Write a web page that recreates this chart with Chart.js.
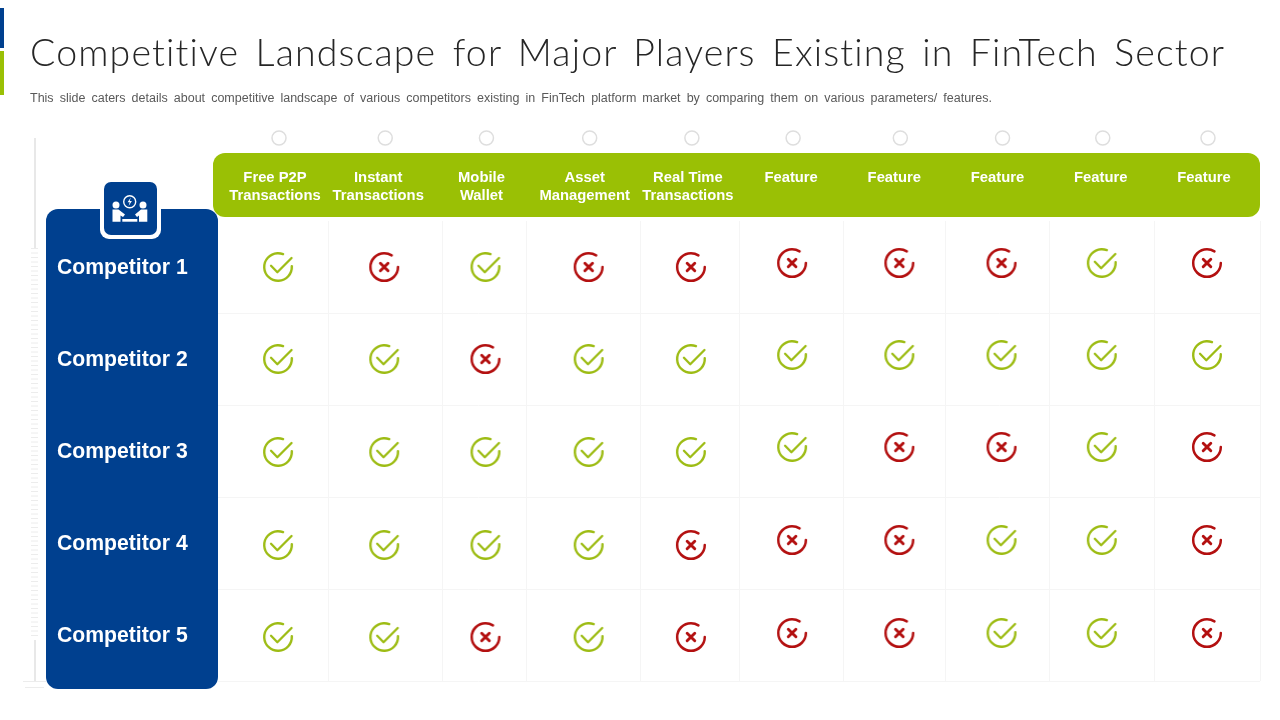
<!DOCTYPE html>
<html><head><meta charset="utf-8">
<style>
html,body{margin:0;padding:0;background:#fff;width:1280px;height:720px;overflow:hidden}
#t{position:absolute;left:30px;top:29px;margin:0;font:300 37.5px Lato,sans-serif;color:#262626;word-spacing:5px;white-space:nowrap;letter-spacing:1.15px}
#s{position:absolute;left:30px;top:90.5px;margin:0;font:12.5px "Liberation Sans",sans-serif;color:#595959;word-spacing:2.6px;white-space:nowrap}
#c{position:absolute;left:0;top:0}
</style>
<script src="https://cdn.jsdelivr.net/npm/chart.js@4/dist/chart.umd.min.js"></script>
</head><body>
<canvas id="c" width="1280" height="720"></canvas>
<h1 id="t">Competitive Landscape for Major Players Existing in FinTech Sector</h1>
<p id="s">This slide caters details about competitive landscape of various competitors existing in FinTech platform market by comparing them on various parameters/ features.</p>
<script>
const features=[["Free P2P","Transactions"],["Instant","Transactions"],["Mobile","Wallet"],["Asset","Management"],["Real Time","Transactions"],["Feature",""],["Feature",""],["Feature",""],["Feature",""],["Feature",""]];
const competitors=["Competitor 1","Competitor 2","Competitor 3","Competitor 4","Competitor 5"];
const competitor1=[1,0,1,0,0,0,0,0,1,0];
const competitor2=[1,1,0,1,1,1,1,1,1,1];
const competitor3=[1,1,1,1,1,1,0,0,1,0];
const competitor4=[1,1,1,1,0,0,0,1,1,0];
const competitor5=[1,1,0,1,0,0,0,1,1,0];
const matrix=[competitor1,competitor2,competitor3,competitor4,competitor5];

const BLUE='#00408f',GREEN='#9ac005',CHECK='#9dbc14',CROSS='#b31010',GRID='#f5f5f5',DECO='#e8e8e8';
// drawing-only nudges of the icon glyphs (px)
const colNudge=[0,3,1,1,0,-2,2,1,-2,0];
const rowNudgeLeft=[0,0,1,2,2],rowNudgeRight=[-4,-4,-4,-3,-2];
const colEdges=[328,442,526,640,739,843,945,1049,1154];

const iconCache={};
function icon(ok,dx,dy){
  const k=[ok,dx,dy].join();
  if(iconCache[k])return iconCache[k];
  const c=document.createElement('canvas');c.width=c.height=48;
  const g=c.getContext('2d');g.translate(24+dx,24+dy);g.lineCap='round';g.lineJoin='round';
  if(ok){
    g.strokeStyle=CHECK;g.lineWidth=2.4;
    g.beginPath();g.arc(0,0,13.8,-0.05,-1.2+Math.PI*2,false);g.stroke();
    g.lineWidth=2.3;g.beginPath();g.moveTo(-7,-1.2);g.lineTo(-0.7,5.2);g.lineTo(13.5,-9);g.stroke();
  }else{
    g.strokeStyle=CROSS;g.lineWidth=2.5;
    g.beginPath();g.arc(0,0,13.8,0.0,-1+Math.PI*2,false);g.stroke();
    g.lineWidth=2.9;g.beginPath();g.moveTo(-3.8,-3.8);g.lineTo(3.8,3.8);g.moveTo(3.8,-3.8);g.lineTo(-3.8,3.8);g.stroke();
  }
  return iconCache[k]=c;
}
function rr(g,x,y,w,h,r,fill){g.beginPath();g.roundRect(x,y,w,h,r);g.fillStyle=fill;g.fill();}

const backdrop={id:'backdrop',beforeDraw(ch){
  const g=ch.ctx,a=ch.chartArea,xs=ch.scales.x,ys=ch.scales.y;
  g.save();
  g.fillStyle=BLUE;g.fillRect(0,8,4,40);
  g.fillStyle=GREEN;g.fillRect(0,51,4,44);
  g.strokeStyle=DECO;g.lineWidth=2;
  g.beginPath();g.moveTo(35,138);g.lineTo(35,248);g.moveTo(35,640);g.lineTo(35,681);g.stroke();
  g.lineWidth=1;g.strokeStyle='#ececec';g.beginPath();
  for(let y=248.5;y<640;y+=4.5){g.moveTo(31,y);g.lineTo(38,y);}
  g.moveTo(23,681.5);g.lineTo(46,681.5);g.moveTo(25,687.5);g.lineTo(44,687.5);g.stroke();
  g.strokeStyle='#dedede';g.lineWidth=1.5;
  xs.ticks.forEach((t,i)=>{g.beginPath();g.arc(xs.getPixelForTick(i)+colNudge[i]+1,138,7,0,Math.PI*2);g.stroke();});
  g.strokeStyle=GRID;g.lineWidth=1;g.beginPath();
  colEdges.concat(1260).forEach(x=>{g.moveTo(x+.5,a.top);g.lineTo(x+.5,a.bottom);});
  ys.ticks.forEach((t,i)=>{const y=Math.round(ys.getPixelForTick(i)+(ys.getPixelForTick(1)-ys.getPixelForTick(0))/2)+.5;g.moveTo(218,y);g.lineTo(1260,y);});
  g.stroke();
  rr(g,213,153,1047,64,12,GREEN);
  rr(g,46,209,172,480,12,BLUE);
  rr(g,100,181,61,58,9,'#fff');
  rr(g,104,182,53,53,7,BLUE);
  g.fillStyle='#fff';g.strokeStyle='#fff';
  g.beginPath();g.arc(116,205,3.5,0,7);g.arc(143,205,3.5,0,7);g.fill();
  g.beginPath();g.moveTo(112.5,209.5);g.lineTo(118.5,209.5);g.lineTo(125,214.5);g.lineTo(123,217);g.lineTo(120.5,215.5);g.lineTo(120.5,221.7);g.lineTo(112.5,221.7);g.closePath();g.fill();
  g.beginPath();g.moveTo(147.3,209.5);g.lineTo(141,209.5);g.lineTo(135,214.5);g.lineTo(137,217);g.lineTo(139,215.5);g.lineTo(139,221.7);g.lineTo(147.3,221.7);g.closePath();g.fill();
  g.fillRect(122.3,219,15,2.7);
  g.lineWidth=1.4;g.beginPath();g.arc(129.7,201.7,6,0,7);g.stroke();
  g.beginPath();g.moveTo(130.8,197.5);g.lineTo(127.6,202.3);g.lineTo(129.7,202.3);g.lineTo(128.6,206);g.lineTo(131.9,201);g.lineTo(129.7,201);g.closePath();g.fill();
  g.restore();
}};

function cells(flag){
  const out=[];
  matrix.forEach((row,r)=>row.forEach((v,c)=>{if(v===flag)out.push({x:features[c],y:competitors[r]});}));
  return out;
}
const styleFor=ctx=>{
  const p=ctx.parsed;if(!p)return 'circle';
  const dy=p.x<5?rowNudgeLeft[p.y]:rowNudgeRight[p.y];
  return icon(ctx.dataset.ok,colNudge[p.x],dy);
};
new Chart(document.getElementById('c'),{
  type:'scatter',
  data:{xLabels:features,yLabels:competitors,datasets:[
    {label:'Yes',ok:true,data:cells(1),pointStyle:styleFor,pointRadius:24,pointHoverRadius:24},
    {label:'No',ok:false,data:cells(0),pointStyle:styleFor,pointRadius:24,pointHoverRadius:24}
  ]},
  plugins:[backdrop],
  options:{
    responsive:false,animation:false,devicePixelRatio:1,
    layout:{autoPadding:false,padding:{left:57,right:21.4,top:153,bottom:39}},
    plugins:{legend:{display:false},tooltip:{enabled:false}},
    scales:{
      x:{type:'category',position:'top',offset:true,
        grid:{display:false},border:{display:false},
        afterFit(s){s.height=68;s.paddingLeft=0;s.paddingRight=0;},
        ticks:{autoSkip:false,maxRotation:0,minRotation:0,color:'#fff',labelOffset:-3,padding:8.5,
          font:{family:'"Liberation Sans"',weight:'bold',size:14.8,lineHeight:1.22}}},
      y:{type:'category',position:'left',offset:true,
        grid:{display:false},border:{display:false},
        afterFit(s){s.width=169.4;s.paddingTop=0;s.paddingBottom=0;},
        ticks:{autoSkip:false,color:'#fff',crossAlign:'far',labelOffset:1.5,
          font:{family:'"Liberation Sans"',weight:'bold',size:21.2}}}
    }
  }
});
</script>
</body></html>
